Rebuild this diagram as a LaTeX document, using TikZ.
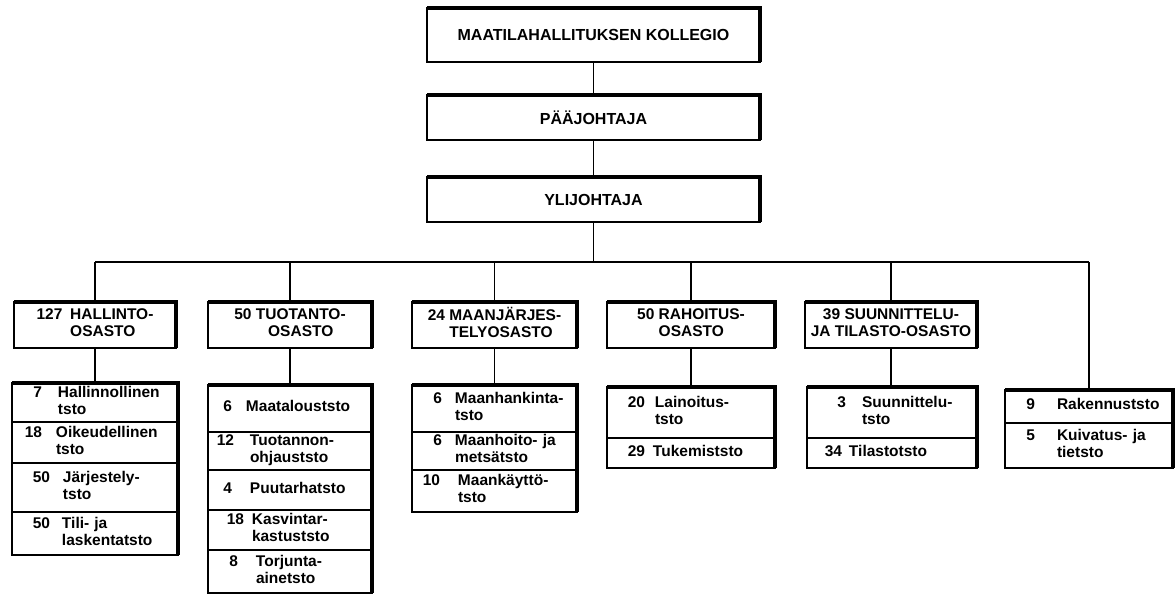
\documentclass[tikz,border=0pt]{standalone}
\usepackage{fontspec}
\setmainfont{Liberation Sans}
\newcommand\stk[2]{\begin{tabular}[t]{@{}#1@{}}#2\end{tabular}}
\newcommand\ent[4]{\makebox[#1pt][r]{#3}\hspace*{\dimexpr#2pt-#1pt\relax}\begin{tabular}[t]{@{}l@{}}#4\end{tabular}}
\newcommand\bx[6]{\node[hdrbox, minimum width={(#4-#2)*1pt}, minimum height={(#5-#3)*1pt}] (#1) at (#2,#3) {#6};}
\newcommand\rw[6]{\node[rowbox, text width={(#4-#2)*1pt}, minimum height={(#5-#3)*1pt}] (#1) at (#2,#3) {#6};}
\newcommand\heavy[2]{\draw[heavyedge] (#1.north west) -- (#1.north east) -- (#2.south east);}
\begin{document}
\begin{tikzpicture}[x=1pt,y=-1pt,
  every node/.style={font=\bfseries\fontsize{15.5}{17}\selectfont},
  topfont/.style={font=\bfseries\fontsize{16}{18}\selectfont},
  hdrbox/.style={draw, line width=1.2pt, anchor=north west, inner xsep=1pt, inner ysep=1pt, outer sep=0pt},
  rowbox/.style={draw, line width=1.2pt, anchor=north west, inner xsep=0pt, inner ysep=1pt, outer sep=0pt, align=left},
  heavyedge/.style={line width=4.5pt, line join=miter},
  link/.style={line width=1.2pt}]
\useasboundingbox (0,0) rectangle (1176,600);
% top chain
\bx{kol}{427}{8}{760}{62}{\bfseries\fontsize{16}{18}\selectfont MAATILAHALLITUKSEN KOLLEGIO}
\bx{pj}{427}{95}{760}{140}{\bfseries\fontsize{16}{18}\selectfont PÄÄJOHTAJA}
\bx{yj}{427}{177}{760}{222}{\bfseries\fontsize{16}{18}\selectfont YLIJOHTAJA}
% departments
\bx{hal}{14}{302}{176}{348}{127\enspace\stk{l}{HALLINTO-\\OSASTO}}
\bx{tuo}{208}{302}{372}{348}{50 \stk{c}{TUOTANTO-\\OSASTO}}
\bx{maa}{412}{302}{577}{348}{24 \stk{l}{MAANJÄRJES-\\TELYOSASTO}}
\bx{rah}{607}{302}{775}{348}{50 \stk{l}{RAHOITUS-\\OSASTO}}
\bx{suu}{805}{302}{977}{348}{\stk{c}{39 SUUNNITTELU-\\JA TILASTO-OSASTO}}
% sub units
\rw{h1}{12}{383}{178}{422}{\ent{30}{46}{7}{Hallinnollinen\\tsto}}
\rw{h2}{12}{422}{178}{463}{\ent{30}{44}{18}{Oikeudellinen\\tsto}}
\rw{h3}{12}{463}{178}{512}{\ent{38}{51}{50}{Järjestely-\\tsto}}
\rw{h4}{12}{512}{178}{555}{\ent{38}{50}{50}{Tili- ja\\laskentatsto}}
\rw{t1}{208}{385}{372}{432}{\ent{24}{38}{6}{Maatalouststo}}
\rw{t2}{208}{432}{372}{470}{\ent{26}{42}{12}{Tuotannon-\\ohjauststo}}
\rw{t3}{208}{470}{372}{510}{\ent{24}{42}{4}{Puutarhatsto}}
\rw{t4}{208}{510}{372}{550}{\ent{36}{44}{18}{Kasvintar-\\kastuststo}}
\rw{t5}{208}{550}{372}{593}{\ent{30}{48}{8}{Torjunta-\\ainetsto}}
\rw{m1}{412}{385}{577}{432}{\ent{30}{43}{6}{Maanhankinta-\\tsto}}
\rw{m2}{412}{432}{577}{470}{\ent{30}{43}{6}{Maanhoito- ja\\metsätsto}}
\rw{m3}{412}{470}{577}{512}{\ent{28}{46}{10}{Maankäyttö-\\tsto}}
\rw{r1}{607}{387}{775}{438}{\ent{38}{48}{20}{Lainoitus-\\tsto}}
\rw{r2}{607}{438}{775}{468}{\ent{38}{46}{29}{Tukemiststo}}
\rw{s1}{807}{387}{977}{438}{\ent{39}{55}{3}{Suunnittelu-\\tsto}}
\rw{s2}{807}{438}{977}{468}{\ent{35}{42}{34}{Tilastotsto}}
\rw{k1}{1005}{390}{1173}{423}{\ent{30}{52}{9}{Rakennuststo}}
\rw{k2}{1005}{423}{1173}{468}{\ent{30}{52}{5}{Kuivatus- ja\\tietsto}}
% heavy top/right edges
\heavy{kol}{kol}\heavy{pj}{pj}\heavy{yj}{yj}
\foreach \d in {hal,tuo,maa,rah,suu} {\heavy{\d}{\d}}
\heavy{h1}{h4}\heavy{t1}{t5}\heavy{m1}{m3}\heavy{r1}{r2}\heavy{s1}{s2}\heavy{k1}{k2}
% connectors
\coordinate (busL) at (95,262);
\coordinate (busR) at (1089,262);
\draw[link] (kol.south) -- (kol.south |- pj.north);
\draw[link] (pj.south) -- (pj.south |- yj.north);
\draw[link] (yj.south) -- (yj.south |- busL);
\draw[link] (busL) -- (busR);
\foreach \d in {hal,tuo,maa,rah,suu} {\draw[link] (\d.north) -- (\d.north |- busL);}
\draw[link] (k1.north) -- (k1.north |- busR);
\draw[link] (hal.south) -- (hal.south |- h1.north);
\draw[link] (tuo.south) -- (tuo.south |- t1.north);
\draw[link] (maa.south) -- (maa.south |- m1.north);
\draw[link] (rah.south) -- (rah.south |- r1.north);
\draw[link] (suu.south) -- (suu.south |- s1.north);
\end{tikzpicture}
\end{document}
